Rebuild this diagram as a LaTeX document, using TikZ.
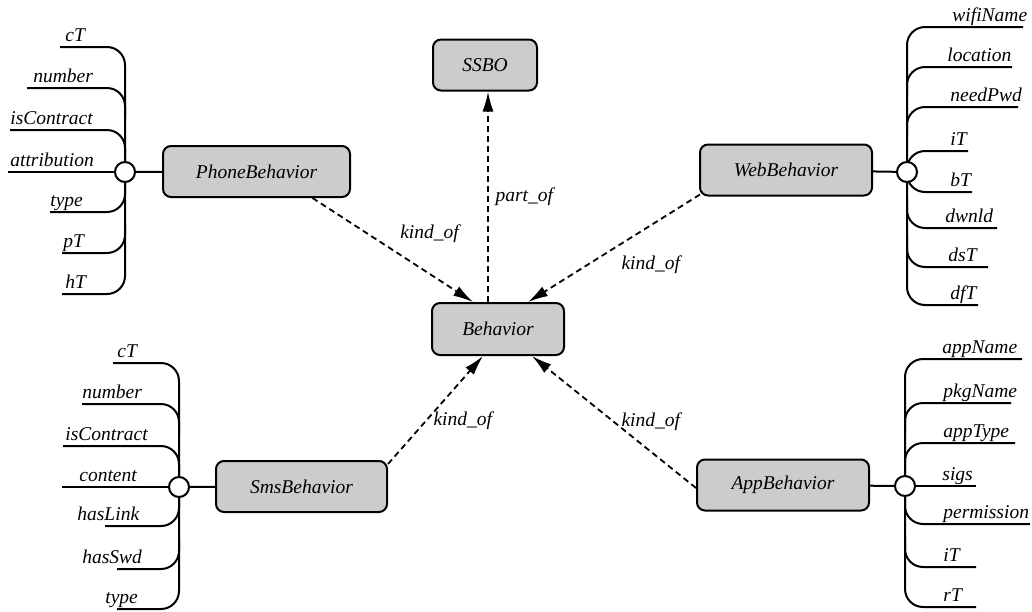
\documentclass[tikz,border=0pt]{standalone}
\usepackage{fontspec}
\setmainfont{Liberation Serif}
\usetikzlibrary{arrows.meta}

\begin{document}
\begin{tikzpicture}[x=0.5pt,y=-0.5pt,
	font=\fontsize{9.75}{11}\selectfont\itshape,
	concept/.style={draw,line width=1pt,rounded corners=4pt,fill=gray!40,minimum height=25.5pt,inner sep=2pt},
	attr/.style={anchor=base west,inner sep=0pt,yshift=3pt},
	hub/.style={draw,circle,line width=1pt,fill=white,minimum size=10pt,inner sep=0pt},
	tree/.style={line width=1pt,rounded corners=9pt},
	rel/.style={line width=0.9pt,dash pattern=on 3pt off 2pt}]
	\useasboundingbox (0,0) rectangle (1032,611);
	%
	\node[concept,minimum width=52pt] (ssbo) at (485,65) {SSBO};
	\node[concept,minimum width=66pt,minimum height=26pt] (behavior) at (498,329) {Behavior};
	\node[concept,minimum width=93.5pt] (phone) at (256.5,171.5) {PhoneBehavior};
	\node[concept,minimum width=86pt] (web) at (786,170) {WebBehavior};
	\node[concept,minimum width=85.5pt] (sms) at (301.5,486.5) {SmsBehavior};
	\node[concept,minimum width=86pt] (app) at (783,485) {AppBehavior};
	%
	\coordinate (phone-spine) at (125,172);
	\coordinate (web-spine) at (907,172);
	\coordinate (sms-spine) at (179,487);
	\coordinate (app-spine) at (905,486);
	%
	% attributes: name / text x / line end x / line y
	\foreach \name/\tx/\lx/\y [count=\i] in {cT/65/60/47, number/33/27/88, isContract/10/10/130,
		attribution/10/8/172, type/50/50/212, pT/63/62/253, hT/65/62/294} {
		\node[attr] (phone-a\i) at (\tx,\y) {\name};
		\coordinate (phone-e\i) at (\lx,\y);
	}
	\foreach \name/\tx/\lx/\y [count=\i] in {wifiName/952/1023/27, location/947/1012/67, needPwd/950/1018/107,
		iT/950/968/151, bT/950/972/192, dwnld/945/997/228, dsT/948/988/267, dfT/950/978/305} {
		\node[attr] (web-a\i) at (\tx,\y) {\name};
		\coordinate (web-e\i) at (\lx,\y);
	}
	\foreach \name/\tx/\lx/\y [count=\i] in {cT/117/113/363, number/82/82/404, isContract/65/63/446,
		content/79/62/487, hasLink/77/105/526, hasSwd/82/117/569, type/105/117/609} {
		\node[attr] (sms-a\i) at (\tx,\y) {\name};
		\coordinate (sms-e\i) at (\lx,\y);
	}
	\foreach \name/\tx/\lx/\y [count=\i] in {appName/942/1022/359, pkgName/943/1011/403, appType/943/1015/443,
		sigs/942/976/486, permission/943/1030/524, iT/943/976/567, rT/943/976/607} {
		\node[attr] (app-a\i) at (\tx,\y) {\name};
		\coordinate (app-e\i) at (\lx,\y);
	}
	%
	% spines
	\draw[tree] (phone-e1) -- (phone-e1 -| phone-spine) -- (phone-e7 -| phone-spine) -- (phone-e7);
	\draw[tree] (web-e1) -- (web-e1 -| web-spine) -- (web-e8 -| web-spine) -- (web-e8);
	\draw[tree] (sms-e1) -- (sms-e1 -| sms-spine) -- (sms-e7 -| sms-spine) -- (sms-e7);
	\draw[tree] (app-e1) -- (app-e1 -| app-spine) -- (app-e7 -| app-spine) -- (app-e7);
	%
	% branches
	\foreach \t in {phone,sms,app} {
		\foreach \i in {2,3}
			\draw[tree] (\t-e\i) -- (\t-e\i -| \t-spine) -- ++(0,30);
		\foreach \i in {5,6}
			\draw[tree] (\t-e\i) -- (\t-e\i -| \t-spine) -- ++(0,-30);
	}
	\foreach \i in {2,3}
		\draw[tree] (web-e\i) -- (web-e\i -| web-spine) -- ++(0,30);
	\foreach \i in {4,5}
		\draw[tree] (web-e\i) -- (web-e\i -| web-spine) -- (web-spine);
	\foreach \i in {6,7}
		\draw[tree] (web-e\i) -- (web-e\i -| web-spine) -- ++(0,-30);
	%
	\foreach \t in {phone,web,sms,app}
		\node[hub] (\t-hub) at (\t-spine) {};
	\foreach \t in {phone,sms,app}
		\draw[tree] (\t-e4) -- (\t-hub);
	\draw[line width=1pt] (phone-hub) -- (phone);
	\draw[line width=1pt] (web-hub) -- (web);
	\draw[line width=1pt] (sms-hub) -- (sms);
	\draw[line width=1pt] (app-hub) -- (app);
	%
	\path[rel,-{Latex[length=10pt,width=5.5pt]}]
	([xshift=-5pt]behavior.north) edge node[right]{part\_of} ([xshift=-5pt]behavior.north |- ssbo.south)
	([xshift=28pt]phone.south) edge node[above right]{kind\_of} ([xshift=-12.5pt]behavior.north)
	([xshift=0.5pt,yshift=1pt]web.south west) edge node[below right]{kind\_of} ([xshift=15pt]behavior.north)
	([yshift=-2pt]sms.north east) edge node[pos=.4,right]{kind\_of} ([xshift=-7.5pt]behavior.south)
	([yshift=-1.5pt]app.west) edge node[right]{kind\_of} ([xshift=17pt]behavior.south);
\end{tikzpicture}
\end{document}
